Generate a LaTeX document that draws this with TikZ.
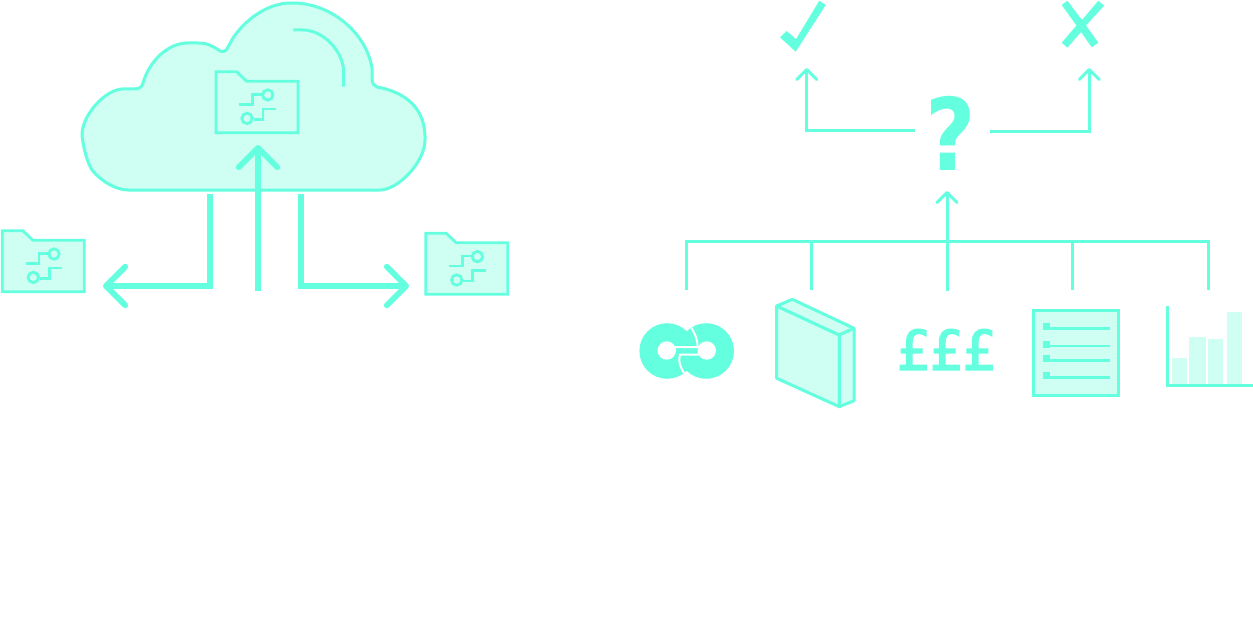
\documentclass[tikz,border=0pt]{standalone}
\usepackage{fontspec}
\usetikzlibrary{arrows.meta}
\newfontfamily\djbold{DejaVu Sans Bold}
\newfontfamily\djmono[FakeBold=2.6]{DejaVu Sans Mono}
\definecolor{mint}{HTML}{64FFDE}
\definecolor{pale}{HTML}{CFFFF3}
\newcommand{\px}{0.75pt}
\tikzset{
  x=0.75pt,y=-0.75pt,
  bigline/.style={draw=mint,line width=5.8*\px,miter limit=10},
  bigarrow/.style={bigline,-{Straight Barb[length=14.5pt,width=29pt,round,line width=5.8*\px]}},
  thinline/.style={draw=mint,line width=3*\px},
  thinarrow/.style={thinline,-{Straight Barb[length=7.5pt,width=15pt,round,line width=3*\px]}},
  outline/.style={draw=mint,line width=3*\px,fill=pale,line join=round},
  glyph/.style={text=mint,inner sep=0pt,outer sep=0pt},
  pics/folder/.style={code={
    \draw[draw=mint,line width=2.8*\px,fill=pale] (0,0) -- (20.5,0) -- (30.5,9.5) -- (82,9.5) -- (82,61) -- (0,61) -- cycle;
    \draw[draw=mint,line width=2.8*\px] (23.3,32.7) -- (36.7,32.7) -- (36.7,22.7) -- (46,22.7);
    \draw[draw=mint,line width=2.8*\px,fill=pale] (51.7,23.3) circle[radius=5.2];
    \draw[draw=mint,line width=2.8*\px] (37.7,47.7) -- (47,47.7) -- (47,37.3) -- (60,37.3);
    \draw[draw=mint,line width=2.8*\px,fill=pale] (31,46.7) circle[radius=5.2];
  }}
}
\begin{document}
\begin{tikzpicture}
\useasboundingbox (0,0) rectangle (1253,642);
% cloud
\draw[outline] (128,190) -- (380,190)
  .. controls (398,190) and (425,162) .. (425,140)
  .. controls (426,108) and (405,92) .. (377,87)
  .. controls (374,86) and (372,83) .. (372,80) -- (372,68)
  .. controls (366,32) and (330,3) .. (293,3)
  .. controls (268,2) and (245,20) .. (233,38) -- (228,47)
  .. controls (226,52) and (222,52) .. (220,51)
  .. controls (213,46) and (207,43) .. (198,43) -- (188,43)
  .. controls (167,43) and (149,62) .. (143,83)
  .. controls (142,87) and (139,89) .. (136,89) -- (122,89)
  .. controls (105,90) and (82,115) .. (82,135)
  .. controls (83,145) and (86,160) .. (92,170)
  .. controls (100,180) and (115,190) .. (128,190) -- cycle;
\draw[thinline] (293.3,30) -- (303,30) .. controls (322,30) and (343.7,50) .. (343.7,73) -- (343.7,86.7);
\pic (fc) at (216,71.7) {folder};
\pic (fl) at (2.3,230.7) {folder};
\pic (fr) at (425.7,233.3) {folder};
% big connectors
\coordinate (la) at (210,193.5); \coordinate (lb) at (210,286); \coordinate (lc) at (103,286);
\coordinate (ca) at (258,291); \coordinate (cb) at (258,145);
\coordinate (ra) at (301,193.5); \coordinate (rb) at (301,286); \coordinate (rc) at (409,286);
\draw[bigarrow] (la) -- (lb) -- (lc);
\draw[bigarrow] (ca) -- (cb);
\draw[bigarrow] (ra) -- (rb) -- (rc);
% check and cross
\fill[mint] (780,37.3) -- (786.7,31) -- (796,39.3) -- (819.3,0.7) -- (825.7,5) -- (795.7,51.7) -- cycle;
\fill[mint] (1061.7,5) -- (1067.3,0.7) -- (1082,20) -- (1098.3,0.7) -- (1104,5.7) -- (1086,25.5) -- (1098.3,42.7) -- (1091.7,47.3) -- (1081,32) -- (1067.3,47.7) -- (1061.7,42.7) -- (1076.5,25.5) -- cycle;
\node[glyph,font=\djbold\fontsize{75pt}{75pt}\selectfont,xscale=0.87] (q) at (951,133.5) {?};
\coordinate (qa) at (915,130.3); \coordinate (qb) at (806.7,130.3); \coordinate (qc) at (806.7,68);
\coordinate (qd) at (990,131.7); \coordinate (qe) at (1089.3,131.7); \coordinate (qf) at (1089.3,68);
\draw[thinarrow] (qa) -- (qb) -- (qc);
\draw[thinarrow] (qd) -- (qe) -- (qf);
% tree
\coordinate (t1) at (686,290); \coordinate (t2) at (811,290); \coordinate (t3) at (947,291);
\coordinate (t4) at (1072,290); \coordinate (t5) at (1208,290);
\coordinate (u1) at (686,241); \coordinate (u2) at (811,241); \coordinate (u3) at (947,241);
\coordinate (u4) at (1072,241); \coordinate (u5) at (1208,241); \coordinate (top) at (947,191);
\draw[thinline] (t1) -- (u1) -- (u5) -- (t5);
\draw[thinline] (t2) -- (u2);
\draw[thinline] (t4) -- (u4);
\draw[thinarrow] (t3) -- (top);
% link icon
\fill[mint] (667.2,351) circle[radius=27.8];
\fill[mint] (706.2,351) circle[radius=27.8];
\fill[white] (666.7,350.5) circle[radius=9.2];
\fill[white] (706.7,350.5) circle[radius=9.2];
\draw[white,line width=2*\px] (672,347.2) -- (697.8,347.2) .. controls (697.5,340) and (695,332) .. (689,325);
\draw[white,line width=2*\px] (701,354.6) -- (680,354.6) .. controls (678,360) and (680,368) .. (686,376);
% book
\draw[outline] (776.7,306) -- (839.3,335) -- (839.3,406.7) -- (776.7,378.3) -- cycle;
\draw[outline] (776.7,306) -- (792.3,299.3) -- (854,328.3) -- (839.3,335) -- cycle;
\draw[outline] (839.3,335) -- (854,328.3) -- (854,400.7) -- (839.3,406.7) -- cycle;
% pounds
\node[glyph,font=\djmono\fontsize{41pt}{41pt}\selectfont] (gbp) at (946,349.5) {£££};
% list
\draw[draw=mint,line width=3*\px,fill=pale] (1033.8,310.8) rectangle (1118.5,395.2);
\foreach \yy/\bb in {328.3/326.5,346/344.5,360.3/358.5,377.7/375.5}{
  \draw[draw=mint,line width=2.5*\px] (1043.3,\yy) -- (1110,\yy);
  \fill[mint] (1043,\bb-3.3) rectangle (1050,\bb+3.3);
}
% chart
\fill[pale] (1172,358.3) rectangle (1187,385);
\fill[pale] (1189.3,336.7) rectangle (1206,385);
\fill[pale] (1208.3,339.3) rectangle (1223.3,385);
\fill[pale] (1227,312) rectangle (1242,385);
\draw[thinline] (1167,306) -- (1167,385.3) -- (1253,385.3);
\end{tikzpicture}
\end{document}
